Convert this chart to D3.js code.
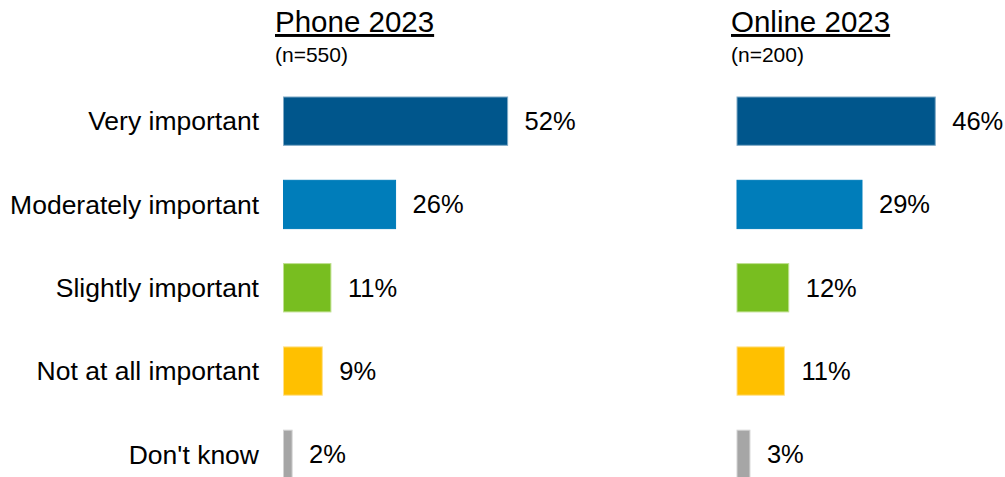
<!DOCTYPE html>
<html>
<head>
<meta charset="utf-8">
<script src="https://cdn.jsdelivr.net/npm/d3@7"></script>
<style>
  body { margin: 0; background: #fff; }
  text { font-family: "Liberation Sans", Arial, sans-serif; fill: #000; }
</style>
</head>
<body>
<div id="my_dataviz"></div>
<script>
// chart data
const categories = ["Very important", "Moderately important", "Slightly important", "Not at all important", "Don't know"];
const phoneValues = [52, 26, 11, 9, 2];
const onlineValues = [46, 29, 12, 11, 3];
const panelTitles = ["Phone 2023", "Online 2023"];
const panelSubtitles = ["(n=550)", "(n=200)"];
const barColors = ["#00568c", "#007dba", "#78be20", "#ffc000", "#a6a6a6"];
const strokeColors = ["#7fa9c5", "#007dba", "#bfe08f", "#ffe08a", "#d3d3d3"];

const width = 1005, height = 477;

const svg = d3.select("#my_dataviz")
  .append("svg")
  .attr("width", width)
  .attr("height", height);

// rows
const y = d3.scaleBand()
  .domain(categories)
  .range([79.5, 496])
  .paddingInner(0.42)
  .paddingOuter(0.21);

// bar length, same for both panels
const x = d3.scaleLinear().domain([0, 100]).range([0, 431]);

// category labels
svg.selectAll(".cat")
  .data(categories)
  .join("text")
  .attr("class", "cat")
  .attr("x", 259)
  .attr("y", d => y(d) + y.bandwidth() / 2)
  .attr("dy", "0.35em")
  .attr("text-anchor", "end")
  .style("font-size", "26.5px")
  .text(d => d);

const panels = [
  { left: 283.5, titleX: 275, values: phoneValues },
  { left: 737, titleX: 731, values: onlineValues }
];

panels.forEach((p, pi) => {
  const g = svg.append("g").attr("transform", `translate(${p.left},0)`);

  // title and base size
  svg.append("text")
    .attr("x", p.titleX)
    .attr("y", 32)
    .style("font-size", "29.5px")
    .style("text-decoration", "underline")
    .text(panelTitles[pi]);
  svg.append("text")
    .attr("x", p.titleX)
    .attr("y", 62)
    .style("font-size", "21px")
    .text(panelSubtitles[pi]);

  const rows = categories.map((c, i) => ({ cat: c, value: p.values[i], i: i }));

  // bars
  g.selectAll("rect")
    .data(rows)
    .join("rect")
    .attr("x", 0)
    .attr("y", d => y(d.cat))
    .attr("width", d => x(d.value))
    .attr("height", y.bandwidth())
    .attr("fill", d => barColors[d.i])
    .attr("stroke", d => strokeColors[d.i])
    .attr("stroke-width", 1);

  // value labels
  g.selectAll(".val")
    .data(rows)
    .join("text")
    .attr("class", "val")
    .attr("x", d => x(d.value) + 17)
    .attr("y", d => y(d.cat) + y.bandwidth() / 2)
    .attr("dy", "0.35em")
    .style("font-size", "25.5px")
    .text(d => d.value + "%");
});
</script>
</body>
</html>
